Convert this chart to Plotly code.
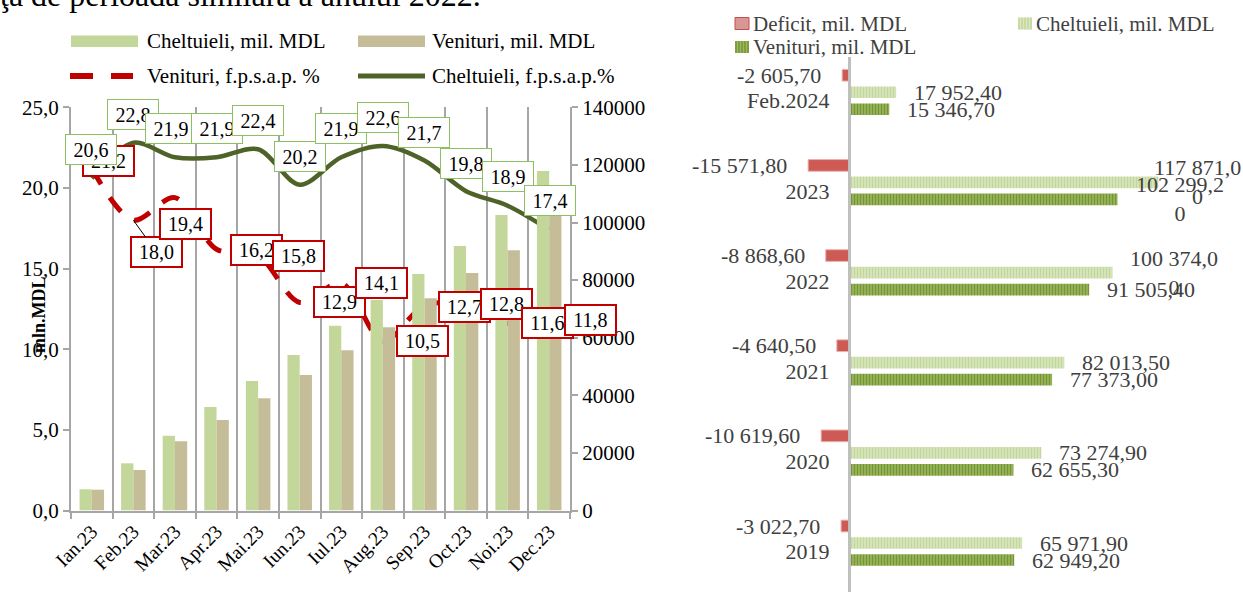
import plotly.graph_objects as go

W, H = 1243, 592

# ---------------- data: left chart (2023, cumulative) ----------------
months = ["Ian.23", "Feb.23", "Mar.23", "Apr.23", "Mai.23", "Iun.23",
          "Iul.23", "Aug.23", "Sep.23", "Oct.23", "Noi.23", "Dec.23"]
chelt_mil = [7360, 16390, 25970, 35940, 44960, 53990, 64160, 73090, 82110, 91840, 102600, 117871]
ven_mil = [7220, 14060, 24030, 31420, 38960, 47050, 55620, 63610, 73680, 82460, 90340, 102299]
ven_pct = [21.2, 18.0, 19.4, 16.2, 15.8, 12.9, 14.1, 10.5, 12.7, 12.8, 11.6, 11.8]
chelt_pct = [20.6, 22.8, 21.9, 21.9, 22.4, 20.2, 21.9, 22.6, 21.7, 19.8, 18.9, 17.4]
left_ticks = [0, 5, 10, 15, 20, 25]
right_ticks = [0, 20000, 40000, 60000, 80000, 100000, 120000, 140000]

# ---------------- data: right chart (annual) ----------------
years = ["2019", "2020", "2021", "2022", "2023", "Feb.2024"]
deficit = [-3022.70, -10619.60, -4640.50, -8868.60, -15571.80, -2605.70]
chelt_an = [65971.90, 73274.90, 82013.50, 100374.00, 117871.00, 17952.40]
ven_an = [62949.20, 62655.30, 77373.00, 91505.40, 102299.20, 15346.70]

# ---------------- style / label placement (pixels) ----------------
SERIF = "Liberation Serif"
ven_lbl_shift = [(17, 8), None, (11, -26), (40, -1), (40, 0), (40, 0),
                 (40, 0), (40, 0), (40, -1), (40, 0), (40, 0), (41, 0)]
chelt_lbl_shift = [(-1, 29), (0, 28), (-4, 29), (0, 29), (0, 29), (0, 28),
                   (0, 29), (0, 29), (0, 28), (0, 28), (0, 29), (1, 29)]
chelt_an_dx = [16, 16, 16, 16, -6, 16]


def px(x):
    return x / W


def py(y):
    return 1 - y / H


def fmt1(v):
    return f"{v:.1f}".replace(".", ",")


def fmt_mdl(v):
    s = f"{v:,.2f}".replace(",", " ").replace(".", ",")
    if abs(v) >= 100000:
        s = s[:-1] + "<br>" + s[-1]
    return s


fig = go.Figure()

# left chart bars (right axis)
bw = 0.2947
fig.add_trace(go.Bar(x=months, y=chelt_mil, xaxis="x", yaxis="y2", width=bw, offset=-bw,
                     marker=dict(color="#c4d79b", line=dict(width=0)), name="Cheltuieli, mil. MDL"))
fig.add_trace(go.Bar(x=months, y=ven_mil, xaxis="x", yaxis="y2", width=bw, offset=0,
                     marker=dict(color="#c4bd97", line=dict(width=0)), name="Venituri, mil. MDL"))
# left chart lines (left axis)
fig.add_trace(go.Scatter(x=months, y=chelt_pct, xaxis="x", yaxis="y", mode="lines",
                         line=dict(color="#4f6228", width=4.5, shape="spline", smoothing=0.9),
                         name="Cheltuieli, f.p.s.a.p.%"))
fig.add_trace(go.Scatter(x=months, y=ven_pct, xaxis="x", yaxis="y", mode="lines",
                         line=dict(color="#c00000", width=5, shape="spline", smoothing=0.9, dash="18px,16px"),
                         name="Venituri, f.p.s.a.p. %"))

# right chart bars
unit = 90.15
bh = 11.7 / unit
fig.add_trace(go.Bar(y=years, x=deficit, orientation="h", xaxis="x2", yaxis="y3",
                     width=bh, offset=25.5 / unit - bh / 2,
                     marker=dict(color="#cd5a55", line=dict(color="#e8b4ae", width=1)),
                     name="Deficit, mil. MDL"))
fig.add_trace(go.Bar(y=years, x=chelt_an, orientation="h", xaxis="x2", yaxis="y3",
                     width=bh, offset=8.5 / unit - bh / 2,
                     marker=dict(color="#d7e4bd", line=dict(width=0),
                                 pattern=dict(shape="|", fillmode="replace", bgcolor="#d9e6c0",
                                              fgcolor="#c3d69b", size=3, solidity=0.45)),
                     name="Cheltuieli, mil. MDL"))
fig.add_trace(go.Bar(y=years, x=ven_an, orientation="h", xaxis="x2", yaxis="y3",
                     width=bh, offset=-8.5 / unit - bh / 2,
                     marker=dict(color="#9bbb59", line=dict(width=0),
                                 pattern=dict(shape="|", fillmode="replace", bgcolor="#9bbb59",
                                              fgcolor="#77933c", size=3, solidity=0.5)),
                     name="Venituri, mil. MDL"))

ann = []
shapes = []

# red boxed labels (Venituri %)
for i, v in enumerate(ven_pct):
    base = dict(xref="x", yref="y", x=i, y=v, text=fmt1(v),
                bgcolor="white", bordercolor="#c00000", borderwidth=2, borderpad=2,
                width=45, height=24, font=dict(family=SERIF, size=20, color="black"))
    if ven_lbl_shift[i] is None:
        base.update(showarrow=True, ax=23, ay=32, arrowhead=0, arrowwidth=1,
                    arrowcolor="black", standoff=0)
    else:
        base.update(showarrow=False, xshift=ven_lbl_shift[i][0], yshift=ven_lbl_shift[i][1])
    ann.append(base)

# green boxed labels (Cheltuieli %)
for i, v in enumerate(chelt_pct):
    ann.append(dict(xref="x", yref="y", x=i, y=v, text=fmt1(v), showarrow=False,
                    xshift=chelt_lbl_shift[i][0], yshift=chelt_lbl_shift[i][1],
                    bgcolor="white", bordercolor="#8cc063", borderwidth=1, borderpad=2,
                    width=46, height=25, font=dict(family=SERIF, size=20, color="black")))

# right chart value labels (y given as category index)
GREY = "#404040"
for i, y in enumerate(years):
    ann.append(dict(xref="x2", yref="y3", x=deficit[i], y=i, text=fmt_mdl(deficit[i]),
                    showarrow=False, xanchor="right", xshift=-19, yshift=25.5,
                    font=dict(family=SERIF, size=22, color=GREY)))
    ann.append(dict(xref="x2", yref="y3", x=chelt_an[i], y=i, text=fmt_mdl(chelt_an[i]),
                    showarrow=False, xanchor="left", xshift=chelt_an_dx[i], yshift=8.5, align="center",
                    font=dict(family=SERIF, size=22, color=GREY)))
    ann.append(dict(xref="x2", yref="y3", x=ven_an[i], y=i, text=fmt_mdl(ven_an[i]),
                    showarrow=False, xanchor="left", xshift=16, yshift=-8.5, align="center",
                    font=dict(family=SERIF, size=22, color=GREY)))

# page title fragment (cut at top)
ann.append(dict(xref="paper", yref="paper", x=px(-2), y=py(15), xanchor="left", yanchor="bottom",
                text="ţa de perioada similară a anului 2022.", showarrow=False,
                font=dict(family=SERIF, size=32, color="black")))
# left axis title
ann.append(dict(xref="paper", yref="paper", x=px(27), y=py(315), text="<b>mln.MDL</b>",
                textangle=-90, showarrow=False, font=dict(family=SERIF, size=18, color="black")))


# ---------- manual legends ----------
def rect(x0, y0, x1, y1, fill, line=None, lw=0):
    shapes.append(dict(type="rect", xref="paper", yref="paper", x0=px(x0), x1=px(x1),
                       y0=py(y1), y1=py(y0), fillcolor=fill,
                       line=dict(color=line or fill, width=lw)))


def hline(x0, x1, y, color, w):
    shapes.append(dict(type="line", xref="paper", yref="paper", x0=px(x0), x1=px(x1),
                       y0=py(y), y1=py(y), line=dict(color=color, width=w)))


def vline(x, y0, y1, color, w):
    shapes.append(dict(type="line", xref="paper", yref="paper", x0=px(x), x1=px(x),
                       y0=py(y0), y1=py(y1), line=dict(color=color, width=w)))


def legtext(x, y, t, size, color):
    ann.append(dict(xref="paper", yref="paper", x=px(x), y=py(y), xanchor="left", yanchor="middle",
                    text=t, showarrow=False, font=dict(family=SERIF, size=size, color=color)))


rect(71, 35.5, 138, 47, "#c4d79b")
legtext(145, 41.5, "Cheltuieli, mil. MDL", 21, "black")
rect(358, 35.5, 425, 47, "#c4bd97")
legtext(430, 41.5, "Venituri, mil. MDL", 21, "black")
hline(70, 93, 76, "#c00000", 6)
hline(111, 133, 76, "#c00000", 6)
legtext(145, 76, "Venituri, f.p.s.a.p. %", 21, "black")
hline(358, 425, 76, "#4f6228", 5)
legtext(430, 76, "Cheltuieli, f.p.s.a.p.%", 21, "black")

rect(735, 17.5, 749, 29.5, "#d99694", "#c0504d", 1)
legtext(751, 23.5, "Deficit, mil. MDL", 21, GREY)
rect(1018, 17.5, 1032, 29.5, "#d9e6c0")
for xx in range(1019, 1032, 3):
    vline(xx, 17.5, 29.5, "#c3d69b", 1.5)
legtext(1034, 23.5, "Cheltuieli, mil. MDL", 21, GREY)
rect(735, 41, 749, 53, "#9bbb59")
for xx in range(736, 749, 3):
    vline(xx, 41, 53, "#77933c", 1.5)
legtext(751, 47, "Venituri, mil. MDL", 21, GREY)

AX = "#a6a6a6"
fig.update_layout(
    width=W, height=H, margin=dict(l=0, r=0, t=0, b=0, pad=0, autoexpand=False),
    paper_bgcolor="white", plot_bgcolor="white", showlegend=False,
    separators=", ", barmode="group",
    font=dict(family=SERIF, color="black"),
    xaxis=dict(domain=[px(71), px(570)], anchor="y", type="category", range=[-0.5, 11.5],
               automargin=False,
               tickson="boundaries", showgrid=True, gridcolor=AX, gridwidth=2,
               showline=True, linecolor=AX, linewidth=2, ticks="outside", ticklen=6,
               tickcolor=AX, tickwidth=2, tickangle=-45, tickfont=dict(size=19.5, family=SERIF),
               zeroline=False),
    yaxis=dict(domain=[py(510.5), py(107.3)], anchor="x", range=[0, 25], tickvals=left_ticks,
               automargin=False,
               tickformat=".1f", showgrid=False, zeroline=False, showline=True, linecolor=AX,
               linewidth=2, ticks="outside", ticklen=6, tickcolor=AX, tickwidth=2,
               tickfont=dict(size=21, family=SERIF)),
    yaxis2=dict(overlaying="y", side="right", anchor="x", range=[0, 140000], tickvals=right_ticks,
                automargin=False,
                tickformat="d", showgrid=False, zeroline=False, showline=True, linecolor=AX,
                linewidth=2, ticks="outside", ticklen=6, tickcolor=AX, tickwidth=2,
                tickfont=dict(size=21, family=SERIF)),
    xaxis2=dict(domain=[px(790), 1.0], anchor="y3", range=[-(849 - 790) * 381, (1243 - 849) * 381],
                automargin=False, visible=False, showgrid=False, zeroline=False),
    yaxis3=dict(domain=[0, py(56.7)], anchor="free", position=px(849), type="category",
                automargin=False,
                categoryorder="array", categoryarray=years,
                range=[(551.5 - 592) / unit, (551.5 - 56.7) / unit],
                showline=True, linecolor="#bfbfbf", linewidth=3, ticks="", showgrid=False,
                zeroline=False, ticklabelstandoff=14,
                tickfont=dict(size=22, family=SERIF, color=GREY)),
    annotations=ann, shapes=shapes,
)

fig.write_html("out.html", config={"displayModeBar": False},
               post_script="document.body.style.margin='0';")
